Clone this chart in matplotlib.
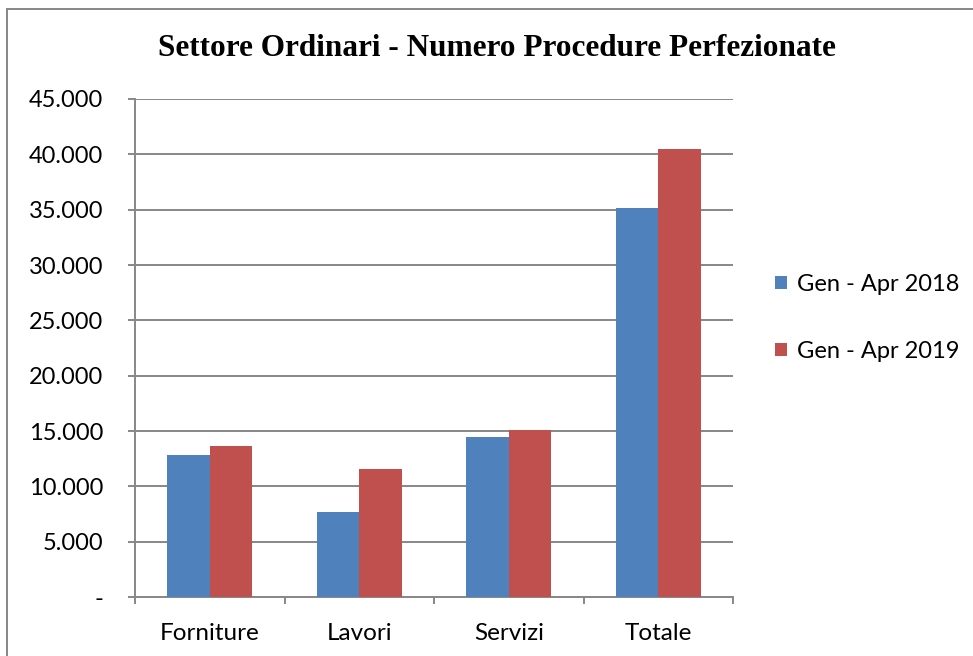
import numpy as np
import matplotlib.pyplot as plt
from matplotlib.patches import Rectangle

# data
categories = ['Forniture', 'Lavori', 'Servizi', 'Totale']
gen_apr_2018 = [12850, 7700, 14500, 35150]
gen_apr_2019 = [13650, 11600, 15100, 40500]
series_labels = ['Gen - Apr 2018', 'Gen - Apr 2019']
yticks = [0, 5000, 10000, 15000, 20000, 25000, 30000, 35000, 40000, 45000]

blue = '#4F81BD'
red = '#C0504D'
grey = '#878787'
label_font = 'Lato'

fig = plt.figure(figsize=(9.73, 6.56), dpi=100)
ax = fig.add_axes([135 / 973, 1 - 597 / 656, 598 / 973, 498 / 656])

# outer chart frame (only top and left edges visible in the picture)
fig.patches.append(Rectangle((7 / 973, -0.2), 1.2, 1.2 - 9 / 656,
                             transform=fig.transFigure, fill=False,
                             edgecolor=grey, linewidth=1.4))

x = np.arange(len(categories)) + 0.5
w = 0.285
ax.bar(x - w / 2, gen_apr_2018, w, color=blue, label=series_labels[0], zorder=3)
ax.bar(x + w / 2, gen_apr_2019, w, color=red, label=series_labels[1], zorder=3)

ax.set_xlim(0, 4)
ax.set_ylim(0, 45000)

# y axis
ax.set_yticks(yticks)
ax.set_yticklabels(['-' if v == 0 else f'{v:,}'.replace(',', '.') for v in yticks],
                   fontfamily=label_font, fontsize=17)
ax.tick_params(axis='y', direction='out', length=5, width=1.4, color=grey, pad=18)
ax.grid(axis='y', color=grey, linewidth=1.4, zorder=0)

# x axis: boundary ticks, labels in the middle
ax.set_xticks(x)
ax.set_xticklabels(categories, fontfamily=label_font, fontsize=17.5)
ax.tick_params(axis='x', which='major', length=0, pad=18.5)
ax.set_xticks(np.arange(5), minor=True)
ax.tick_params(axis='x', which='minor', direction='out', length=5, width=1.4, color=grey)

for side in ['top', 'right']:
    ax.spines[side].set_visible(False)
for side in ['left', 'bottom']:
    ax.spines[side].set_color(grey)
    ax.spines[side].set_linewidth(1.4)

fig.text(0.511, 1 - 48 / 656, 'Settore Ordinari - Numero Procedure Perfezionate',
         ha='center', va='center', fontfamily='Liberation Serif',
         fontweight='bold', fontsize=22.5)

fig.legend(loc='center left', bbox_to_anchor=(775 / 973, 1 - 318 / 656),
           frameon=False, prop={'family': label_font, 'size': 17},
           handlelength=0.52, handleheight=0.44, handletextpad=0.42,
           labelspacing=1.95, borderpad=0, borderaxespad=0)

fig.savefig('out.png', dpi=100)
